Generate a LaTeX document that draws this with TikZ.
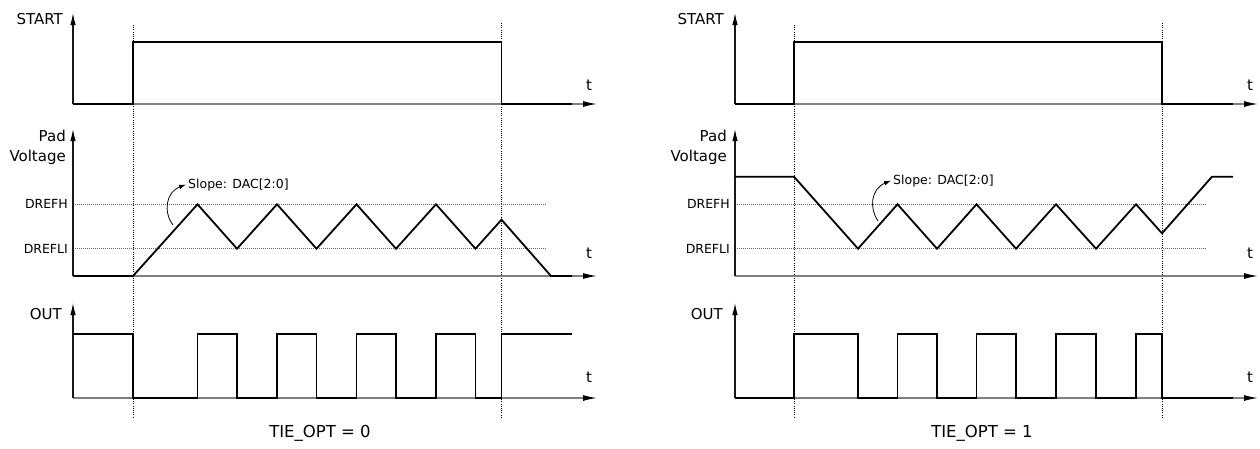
\documentclass[tikz,border=0pt]{standalone}
\usepackage{fontspec}
\setmainfont{DejaVu Sans}
\usetikzlibrary{arrows.meta}
\begin{document}
\begin{tikzpicture}[x=1pt,y=-1pt,
  sig/.style={line width=1.8pt, black, line join=miter},
  xaxis/.style={line width=1.3pt, black!50, -{Latex[length=14pt,width=6pt,color=black]}},
  yaxis/.style={line width=1.1pt, black!90, -{Latex[length=12pt,width=5.5pt,color=black]}},
  vdot/.style={line width=0.8pt, black, dash pattern=on 1pt off 1.2pt},
  hdot/.style={line width=0.8pt, black!60, dash pattern=on 1pt off 1pt},
  slopearrow/.style={line width=0.8pt, black, -{Latex[length=7pt,width=4.5pt]}},
  lbl/.style={inner sep=0pt, anchor=base east, font=\fontsize{15}{18}\selectfont},
  tlbl/.style={inner sep=0pt, anchor=base, font=\fontsize{15}{18}\selectfont},
  ref/.style={inner sep=0pt, anchor=base east, font=\fontsize{12.5}{15}\selectfont},
  note/.style={inner sep=0pt, anchor=base west, font=\fontsize{12.5}{15}\selectfont},
  caption/.style={inner sep=0pt, anchor=base, font=\fontsize{16.5}{19}\selectfont},
]
\useasboundingbox (0,0) rectangle (1260,448);

% ================= LEFT PANEL (TIE_OPT = 0) =================
\draw[vdot] (133,25) -- (133,418);
\draw[vdot] (501.5,23) -- (501.5,418);

% START
\draw[xaxis] (73,104) -- (597,104);
\draw[yaxis] (73,104) -- (73,13);
\draw[sig] (73,104) -- (133,104) -- (133,42) -- (501.5,42) -- (501.5,104) -- (572,104);
\node[lbl] (startL) at (63,24) {START};
\node[tlbl] (tstartL) at (589,90) {t};

% Pad voltage
\draw[hdot] (73,204.3) -- (546,204.3);
\draw[hdot] (73,248.7) -- (546,248.7);
\draw[xaxis] (73,276) -- (597,276);
\draw[yaxis] (73,276) -- (73,129);
\draw[sig] (73,276) -- (133,276) -- (197.5,204.3) -- (237,248.7) -- (277,204.3)
  -- (316.5,248.7) -- (356.5,204.3) -- (396,248.7) -- (436,204.3) -- (475.5,248.7)
  -- (501.5,219.7) -- (551,276) -- (572,276);
\node[lbl] (padL) at (66,141.5) {Pad};
\node[lbl] (voltL) at (66,161) {Voltage};
\node[ref] (drefhL) at (68,208.8) {DREFH};
\node[ref] (dreflL) at (68,253.2) {DREFLI};
\node[tlbl] (tpadL) at (589,258) {t};
\node[note] (slopeL) at (188,188) {Slope: DAC[2:0]};
\coordinate (slopeLs) at (173,225);
\draw[slopearrow] (slopeLs) .. controls (163,212) and (166,192) .. ([xshift=-2pt]slopeL.west);

% OUT
\draw[xaxis] (73,398) -- (597,398);
\draw[yaxis] (73,398) -- (73,303);
\draw[sig] (73,334) -- (133,334) -- (133,398) -- (197.5,398) -- (197.5,334) -- (237,334)
  -- (237,398) -- (277,398) -- (277,334) -- (316.5,334) -- (316.5,398) -- (356.5,398)
  -- (356.5,334) -- (396,334) -- (396,398) -- (436,398) -- (436,334) -- (475.5,334)
  -- (475.5,398) -- (501.5,398) -- (501.5,334) -- (572,334);
\node[lbl] (outL) at (62,319) {OUT};
\node[tlbl] (toutL) at (589,382) {t};
\node[caption] (capL) at (320,437) {TIE\textunderscore OPT = 0};

% ================= RIGHT PANEL (TIE_OPT = 1) =================
\draw[vdot] (794,25) -- (794,418);
\draw[vdot] (1162,23) -- (1162,418);

% START
\draw[xaxis] (735,104) -- (1258,104);
\draw[yaxis] (735,104) -- (735,13);
\draw[sig] (735,104) -- (794,104) -- (794,42) -- (1162,42) -- (1162,104) -- (1233,104);
\node[lbl] (startR) at (724,24) {START};
\node[tlbl] (tstartR) at (1250,90) {t};

% Pad voltage
\draw[hdot] (735,204.3) -- (1207,204.3);
\draw[hdot] (735,248.7) -- (1207,248.7);
\draw[xaxis] (735,276) -- (1258,276);
\draw[yaxis] (735,276) -- (735,129);
\draw[sig] (735,176.7) -- (794,176.7) -- (858,248.7) -- (897.5,204.3) -- (937,248.7)
  -- (976.5,204.3) -- (1016,248.7) -- (1056,204.3) -- (1096,248.7) -- (1136,204.3)
  -- (1162,233.3) -- (1212,176.7) -- (1233,176.7);
\node[lbl] (padR) at (727,141.5) {Pad};
\node[lbl] (voltR) at (727,161) {Voltage};
\node[ref] (drefhR) at (730,208.8) {DREFH};
\node[ref] (dreflR) at (730,253.2) {DREFLI};
\node[tlbl] (tpadR) at (1250,258) {t};
\node[note] (slopeR) at (893,184) {Slope: DAC[2:0]};
\coordinate (slopeRs) at (878,221);
\draw[slopearrow] (slopeRs) .. controls (869,208) and (871,189) .. ([xshift=-2pt]slopeR.west);

% OUT
\draw[xaxis] (735,398) -- (1258,398);
\draw[yaxis] (735,398) -- (735,303);
\draw[sig] (735,398) -- (794,398) -- (794,334) -- (858,334) -- (858,398) -- (897.5,398)
  -- (897.5,334) -- (937,334) -- (937,398) -- (976.5,398) -- (976.5,334) -- (1016,334)
  -- (1016,398) -- (1056,398) -- (1056,334) -- (1096,334) -- (1096,398) -- (1136,398)
  -- (1136,334) -- (1162,334) -- (1162,398) -- (1233,398);
\node[lbl] (outR) at (723,319) {OUT};
\node[tlbl] (toutR) at (1250,382) {t};
\node[caption] (capR) at (982,437) {TIE\textunderscore OPT = 1};
\end{tikzpicture}
\end{document}
